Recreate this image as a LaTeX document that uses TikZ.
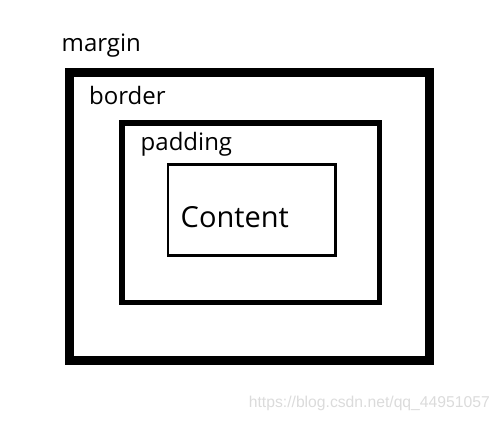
\documentclass[tikz,border=0pt]{standalone}
\usepackage{fontspec}
\setmainfont{Open Sans}
\newfontfamily\urlfont{Liberation Sans}
\usetikzlibrary{positioning}
\tikzset{label/.style = {anchor = base west, inner sep = 0, font = \fontsize{24}{28}\selectfont}}
\tikzset{boxline/.style = {draw, line join = miter}}
\definecolor{wmgray}{rgb}{0.86, 0.86, 0.86}

\begin{document}
\begin{tikzpicture}[x = 1pt, y = -1pt]
      \useasboundingbox (0, 0) rectangle (500, 420);

      \draw [boxline, line width = 9pt] (69.5, 72.5) rectangle (429.5, 360.5);
      \draw [boxline, line width = 5.5pt] (122, 123) rectangle (379.5, 302.5);
      \draw [boxline, line width = 2.5pt] (168, 164.5) rectangle (335.5, 255.5);

      \node [label] (margin) at (61.5, 51.5) {margin};
      \node [label] (border) at (89, 104.5) {border};
      \node [label] (padding) at (140.5, 150) {padding};
      \node [label, font = \fontsize{29}{34}\selectfont] (content) at (180.5, 227.5) {Content};

      \node [anchor = base east, inner sep = 0, text = wmgray, font = \urlfont\fontsize{15.7}{19}\selectfont] (mark) at (490, 407) {https://blog.csdn.net/qq\_44951057};
    \end{tikzpicture}
\end{document}
